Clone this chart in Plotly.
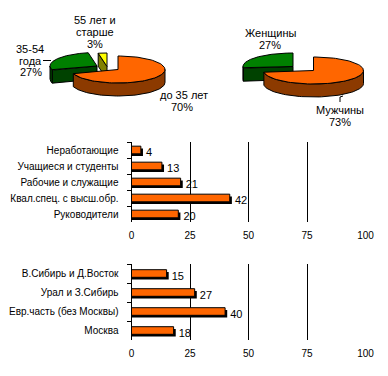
import math
import plotly.graph_objects as go

# ---------------- data ----------------
age_labels = ["до 35 лет", "35-54 года", "55 лет и старше"]
age_values = [70, 27, 3]
sex_labels = ["Мужчины", "Женщины"]
sex_values = [73, 27]
occ_labels = ["Неработающие", "Учащиеся и студенты", "Рабочие и служащие",
              "Квал.спец. с высш.обр.", "Руководители"]
occ_values = [4, 13, 21, 42, 20]
reg_labels = ["В.Сибирь и Д.Восток", "Урал и З.Сибирь",
              "Евр.часть (без Москвы)", "Москва"]
reg_values = [15, 27, 40, 18]
x_ticks = [0, 25, 50, 75, 100]

# ---------------- style ----------------
W, H = 388, 376
FONT = "Liberation Sans, Arial, sans-serif"
ORANGE, BROWN = "#FF6600", "#8C3A00"
GREEN, DKGREEN = "#008000", "#004200"
YELLOW, OLIVE = "#FFFF00", "#808000"

fig = go.Figure()


def poly(xs, ys, color):
    fig.add_trace(go.Scatter(x=xs, y=ys, mode="lines", fill="toself",
                             fillcolor=color, line=dict(color="black", width=1),
                             xaxis="x3", yaxis="y3", hoverinfo="skip",
                             showlegend=False))


def pie3d(values, tops, sides, centers, a, b, d, order):
    total = float(sum(values))
    angles, s = [], 0.0
    for v in values:
        e = s + v / total * 360.0
        angles.append((s, e))
        s = e
    for i in order:
        t1, t2 = angles[i]
        cx, cy = centers[i]

        def P(t, dy=0.0):
            r = math.radians(t)
            return cx + a * math.sin(r), cy - b * math.cos(r) + dy

        # radial walls
        for t, nrm in ((t1, t1 - 90), (t2, t2 + 90)):
            if math.cos(math.radians(nrm)) < -1e-6:
                px, py = P(t)
                poly([cx, px, px, cx, cx], [cy, py, py + d, cy + d, cy], sides[i])
        # outer rim
        lo, hi = max(t1, 90.0), min(t2, 270.0)
        if hi > lo:
            n = 60
            ts = [lo + (hi - lo) * k / n for k in range(n + 1)]
            top = [P(t) for t in ts]
            bot = [P(t, d) for t in reversed(ts)]
            pts = top + bot + [top[0]]
            poly([p[0] for p in pts], [p[1] for p in pts], sides[i])
        # top face
        n = 90
        ts = [t1 + (t2 - t1) * k / n for k in range(n + 1)]
        pts = [(cx, cy)] + [P(t) for t in ts] + [(cx, cy)]
        poly([p[0] for p in pts], [p[1] for p in pts], tops[i])


# age pie (order: back to front)
pie3d(age_values, [ORANGE, GREEN, YELLOW], [BROWN, DKGREEN, OLIVE],
      [(118, 69.5), (97, 66), (107, 66.5)], 47, 13.5, 13, [2, 1, 0])
# sex pie
pie3d(sex_values, [ORANGE, GREEN], [BROWN, DKGREEN],
      [(313.5, 70.5), (293, 66.5)], 50, 13.5, 13, [1, 0])

# pie labels (one annotation per line)
pie_text = [
    (95, 20, "55 лет и"), (95, 32, "старше"), (95, 43.5, "3%"),
    (30, 48.5, "35-54"), (30, 61, "года"), (31, 72, "27%"),
    (184, 95, "до 35 лет"), (182, 107, "70%"),
    (270, 32.5, "Женщины"), (270, 44.5, "27%"),
    (340, 109.5, "Мужчины"), (340, 122, "73%"),
]
for x, y, t in pie_text:
    fig.add_annotation(x=x, y=y, xref="x3", yref="y3", text=t, showarrow=False,
                       font=dict(family=FONT, size=11, color="black"),
                       xanchor="center", yanchor="middle")
# leader lines
fig.add_trace(go.Scatter(x=[43, 51], y=[60.5, 60.5], mode="lines",
                         line=dict(color="black", width=1), xaxis="x3", yaxis="y3",
                         hoverinfo="skip", showlegend=False))
fig.add_trace(go.Scatter(x=[340, 340, 343], y=[102, 97, 96], mode="lines",
                         line=dict(color="black", width=1), xaxis="x3", yaxis="y3",
                         hoverinfo="skip", showlegend=False))


def bars(labels, values, xa, ya, w, shadow_dy, shadow_dx):
    fig.add_trace(go.Bar(y=labels, x=[v + shadow_dx for v in values], orientation="h",
                         marker=dict(color="black", line=dict(width=0)),
                         width=w, offset=-w / 2 + shadow_dy,
                         text=[str(v) for v in values], textposition="outside",
                         textfont=dict(family=FONT, size=11, color="black"),
                         constraintext="none", cliponaxis=False,
                         xaxis=xa, yaxis=ya, hoverinfo="skip", showlegend=False))
    fig.add_trace(go.Bar(y=labels, x=values, orientation="h",
                         marker=dict(color=ORANGE, line=dict(color="black", width=1)),
                         width=w, xaxis=xa, yaxis=ya, hoverinfo="skip",
                         showlegend=False))


bars(occ_labels, occ_values, "x", "y", 0.48, 0.14, 0.9)
bars(reg_labels, reg_values, "x2", "y2", 0.40, 0.12, 0.9)

xdom = [131.5 / W, 365.5 / W]
xax = dict(range=[0, 100], tickvals=x_ticks, showgrid=True, gridcolor="black",
           gridwidth=1, zeroline=False, showline=False, ticks="",
           ticklabelstandoff=6, automargin=False,
           tickfont=dict(family=FONT, size=10, color="black"), fixedrange=True)
yax = dict(type="category", autorange="reversed", showline=True, linecolor="black",
           linewidth=1, ticks="outside", tickson="boundaries", ticklen=4,
           tickcolor="black", ticklabelstandoff=10, showgrid=False, zeroline=False,
           automargin=False,
           tickfont=dict(family=FONT, size=10, color="black"), fixedrange=True)

fig.update_layout(
    width=W, height=H, margin=dict(l=0, r=0, t=0, b=0, autoexpand=False),
    paper_bgcolor="white", plot_bgcolor="rgba(0,0,0,0)",
    barmode="overlay", showlegend=False,
    font=dict(family=FONT, size=11, color="black"),
    xaxis=dict(domain=xdom, anchor="y", **xax),
    yaxis=dict(domain=[1 - 222 / H, 1 - 142 / H], anchor="x", **yax),
    xaxis2=dict(domain=xdom, anchor="y2", **xax),
    yaxis2=dict(domain=[1 - 340 / H, 1 - 264 / H], anchor="x2", **yax),
    xaxis3=dict(domain=[0, 1], range=[0, W], anchor="y3", visible=False,
                fixedrange=True, automargin=False),
    yaxis3=dict(domain=[1 - 130 / H, 1], range=[130, 0], anchor="x3",
                visible=False, fixedrange=True, automargin=False),
)

fig.write_html("out.html", config={"displayModeBar": False},
               post_script="document.body.style.margin='0';document.body.style.padding='0';")
